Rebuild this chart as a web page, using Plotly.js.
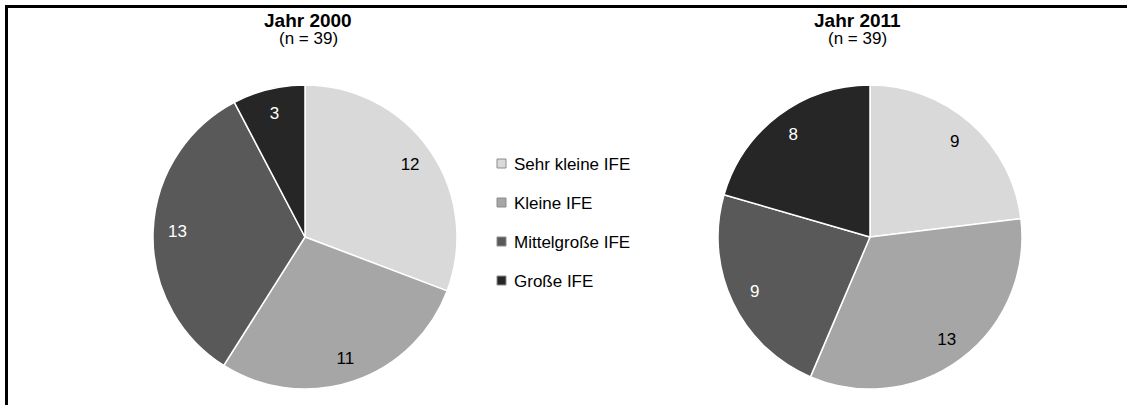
<!DOCTYPE html>
<html>
<head>
<meta charset="utf-8">
<script src="https://cdn.plot.ly/plotly-3.0.1.min.js"></script>
<style>html,body{margin:0;padding:0;background:#fff;}#chart{width:1127px;height:405px;}</style>
</head>
<body>
<div id="chart"></div>
<script>
// ---- data ----
const categories = ["Sehr kleine IFE", "Kleine IFE", "Mittelgroße IFE", "Große IFE"];
const values2000 = [12, 11, 13, 3];
const values2011 = [9, 13, 9, 8];
const titles = ["Jahr 2000", "Jahr 2011"];
const subtitles = ["(n = 39)", "(n = 39)"];

// ---- styles ----
const colors = ["#d9d9d9", "#a6a6a6", "#595959", "#262626"];
const textColors = ["#000000", "#000000", "#ffffff", "#ffffff"];
const W = 1127, H = 405;
const FONT = "Liberation Sans, Arial, sans-serif";
const px = x => x / W;
const py = y => 1 - y / H;

function domainOf(cx, cy, r) {
  return { x: [px(cx - r), px(cx + r)], y: [py(cy + r), py(cy - r)] };
}

// filled pie (no text)
function pieTrace(values, cx, cy, r) {
  return {
    type: "pie",
    labels: categories,
    values: values,
    sort: false,
    direction: "clockwise",
    rotation: 0,
    marker: { colors: colors, line: { color: "#ffffff", width: 1.5 } },
    textinfo: "none",
    hoverinfo: "label+value",
    showlegend: false,
    domain: domainOf(cx, cy, r)
  };
}
// transparent ring overlay carrying the value labels near the rim
function labelTrace(values, cx, cy, r) {
  return {
    type: "pie",
    labels: categories,
    values: values,
    sort: false,
    direction: "clockwise",
    rotation: 0,
    hole: 0.68,
    marker: { colors: categories.map(() => "rgba(0,0,0,0)"), line: { width: 0 } },
    textinfo: "value",
    textposition: "inside",
    insidetextorientation: "horizontal",
    textfont: { family: FONT, size: 17, color: textColors },
    hoverinfo: "skip",
    showlegend: false,
    domain: domainOf(cx, cy, r)
  };
}

const data = [
  pieTrace(values2000, 305, 237, 152),
  pieTrace(values2011, 870, 237, 152),
  labelTrace(values2000, 305, 237, 152),
  labelTrace(values2011, 870, 237, 152)
];

const annotations = [];
const titleX = [308, 857];
titles.forEach((t, i) => {
  annotations.push({
    xref: "paper", yref: "paper", x: px(titleX[i]), y: py(21),
    xanchor: "center", yanchor: "middle", showarrow: false,
    text: "<b>" + t + "</b>", font: { family: FONT, size: 19, color: "#000" }
  });
  annotations.push({
    xref: "paper", yref: "paper", x: px(titleX[i]), y: py(38),
    xanchor: "center", yanchor: "middle", showarrow: false,
    text: subtitles[i], font: { family: FONT, size: 17, color: "#000" }
  });
});

// custom legend (row spacing wider than Plotly's native legend allows)
const shapes = [];
const legendY0 = 164, legendDY = 39;
categories.forEach((c, i) => {
  const yc = legendY0 + i * legendDY;
  annotations.push({
    xref: "paper", yref: "paper", x: px(512), y: py(yc),
    xanchor: "left", yanchor: "middle", showarrow: false,
    text: c, font: { family: FONT, size: 17, color: "#000" }
  });
  shapes.push({
    type: "rect", xref: "paper", yref: "paper",
    x0: px(497), x1: px(506), y0: py(yc - 5), y1: py(yc + 4),
    fillcolor: colors[i], line: { color: "#8c8c8c", width: 1 }
  });
});

// outer frame (top and left edges visible)
shapes.push({
  type: "line", xref: "paper", yref: "paper",
  x0: px(5), x1: 1, y0: py(6.5), y1: py(6.5),
  line: { color: "#000", width: 3 }
});
shapes.push({
  type: "line", xref: "paper", yref: "paper",
  x0: px(6.5), x1: px(6.5), y0: py(5), y1: 0,
  line: { color: "#000", width: 3 }
});

const layout = {
  width: W, height: H,
  margin: { l: 0, r: 0, t: 0, b: 0 },
  paper_bgcolor: "#ffffff",
  plot_bgcolor: "#ffffff",
  showlegend: false,
  annotations: annotations,
  shapes: shapes,
  font: { family: FONT }
};

Plotly.newPlot("chart", data, layout, { displayModeBar: false, staticPlot: true });
</script>
</body>
</html>
